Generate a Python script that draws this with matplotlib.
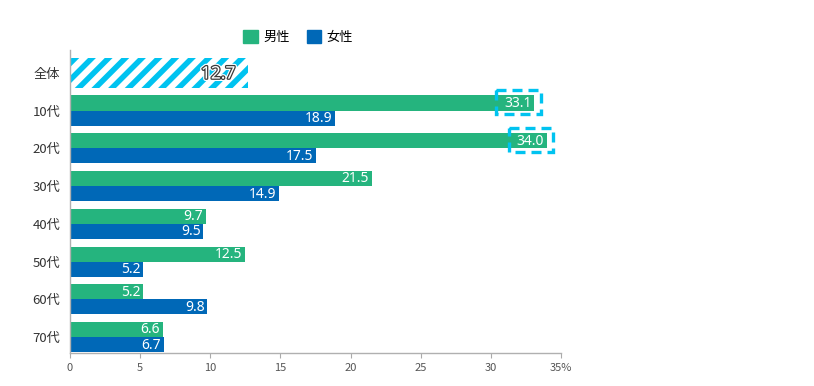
import matplotlib.pyplot as plt
import matplotlib.patheffects as pe
from matplotlib.patches import Patch, Rectangle

plt.rcParams['font.family'] = ['Noto Sans CJK JP', 'DejaVu Sans']
plt.rcParams['hatch.linewidth'] = 4.0
plt.rcParams['hatch.color'] = '#00C3F0'

categories = ['10代', '20代', '30代', '40代', '50代', '60代', '70代']
male = [33.1, 34.0, 21.5, 9.7, 12.5, 5.2, 6.6]
female = [18.9, 17.5, 14.9, 9.5, 5.2, 9.8, 6.7]
overall_label = '全体'
overall = 12.7
highlighted = ['10代', '20代']
xticks = [0, 5, 10, 15, 20, 25, 30, 35]

GREEN = '#25B47E'
BLUE = '#0068B7'
CYAN = '#00C3F0'
NUM_FONT = ['Noto Sans', 'DejaVu Sans']


def main():
    fig = plt.figure(figsize=(8.14, 3.86), dpi=100)
    ax = fig.add_axes([70 / 814, 33 / 386, 491 / 814, 303 / 386])

    rows = list(range(1, len(categories) + 1))

    # overall bar, hatched
    ax.barh(0, overall, height=0.79, color='white', edgecolor=CYAN,
            hatch='//', linewidth=0)
    ax.text(overall - 0.9, 0.02, f'{overall}', ha='right', va='center',
            fontsize=12.5, color='white', family=NUM_FONT,
            path_effects=[pe.Stroke(linewidth=3.5, foreground='white'),
                          pe.Stroke(linewidth=1.8, foreground='#3a3a3a'),
                          pe.Normal()])

    ym = [r - 0.2 for r in rows]
    yf = [r + 0.2 for r in rows]
    ax.barh(ym, male, height=0.4, color=GREEN)
    ax.barh(yf, female, height=0.4, color=BLUE)

    for y, v in zip(ym, male):
        ax.text(v - 0.2, y + 0.01, f'{v}', ha='right', va='center',
                fontsize=10, color='white', family=NUM_FONT)
    for y, v in zip(yf, female):
        ax.text(v - 0.2, y + 0.01, f'{v}', ha='right', va='center',
                fontsize=10, color='white', family=NUM_FONT)

    # dashed highlight boxes
    for cat in highlighted:
        i = categories.index(cat)
        v = male[i]
        ax.add_patch(Rectangle((v - 2.7, ym[i] - 0.35), 3.15, 0.64,
                               fill=False, edgecolor=CYAN, linewidth=2.4,
                               linestyle=(0, (3, 1.8)), zorder=4))

    ax.set_xlim(0, 35)
    ax.set_ylim(7.42, -0.605)
    ax.set_yticks([0] + rows)
    ax.set_yticklabels([overall_label] + categories, fontsize=9.5, color='#333333')
    ax.set_xticks(xticks)
    ax.set_xticklabels([str(t) for t in xticks[:-1]] + [f'{xticks[-1]}%'],
                       fontsize=8, color='#555555')
    ax.tick_params(axis='y', length=0, pad=7)
    ax.tick_params(axis='x', length=3.5, color='#aaaaaa', pad=4)
    for s in ['top', 'right']:
        ax.spines[s].set_visible(False)
    for s in ['left', 'bottom']:
        ax.spines[s].set_color('#b0b0b0')
        ax.spines[s].set_linewidth(1)

    handles = [Patch(color=GREEN, label='男性'), Patch(color=BLUE, label='女性')]
    fig.legend(handles=handles, loc='center', ncol=2, frameon=False,
               bbox_to_anchor=(298 / 814, 1 - 37 / 386), fontsize=9.5,
               handlelength=1.1, handleheight=1.1, handletextpad=0.4,
               columnspacing=1.3)

    fig.savefig('out.png', dpi=100)
    plt.close(fig)


if __name__ == '__main__':
    main()
